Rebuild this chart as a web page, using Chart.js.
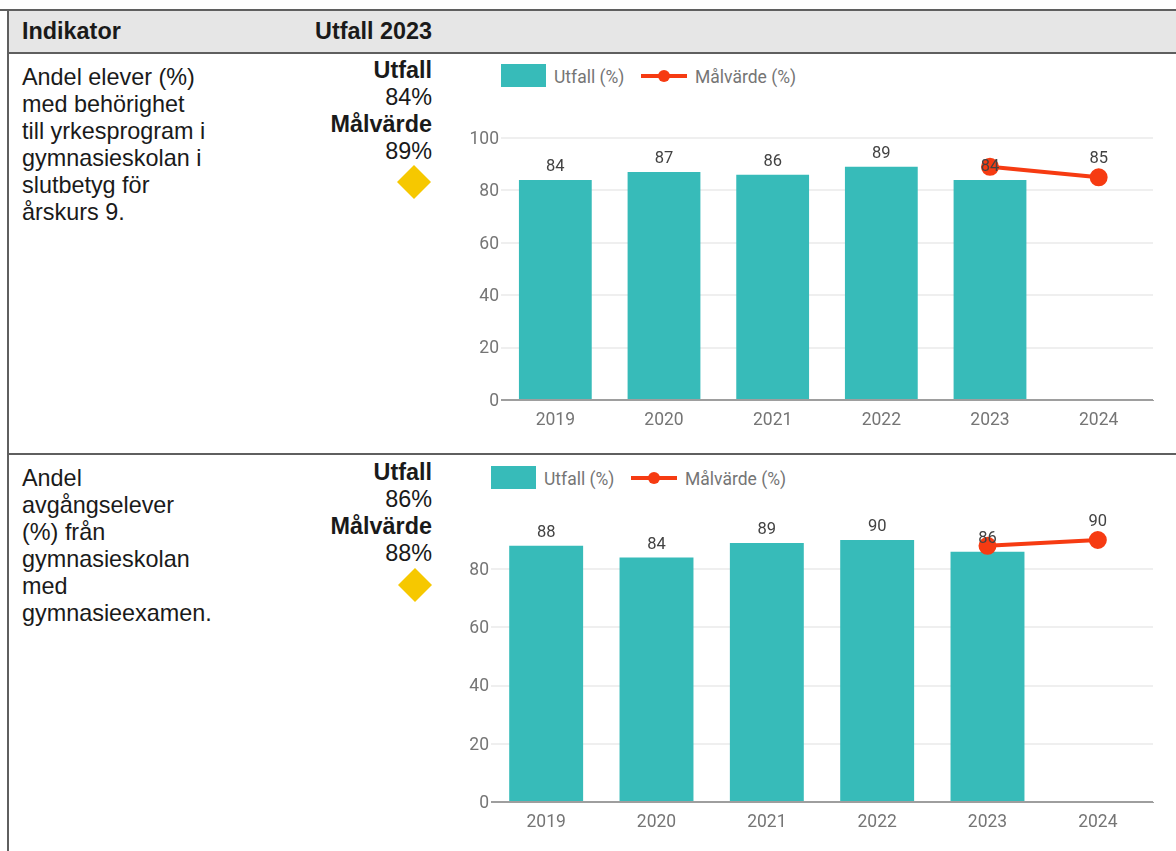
<!DOCTYPE html>
<html lang="sv">
<head>
<meta charset="utf-8">
<title>Indikator</title>
<script src="https://cdn.jsdelivr.net/npm/chart.js@4"></script>
<style>
  html, body { margin: 0; background: #fff; }
  body { position: relative; width: 1176px; height: 851px; overflow: hidden; font-family: "Liberation Sans", Arial, sans-serif; color: #1a1a1a; }
  .rule { position: absolute; background: #5f5f5f; }
  .head { position: absolute; left: 8px; top: 11px; width: 1168px; height: 41px; background: #e6e6e6; }
  .txt { position: absolute; font-size: 23.4px; line-height: 27px; white-space: pre; }
  .b { font-weight: bold; }
  .r { text-align: right; right: 744px; }
  .diamond { position: absolute; width: 34px; height: 34px; background: #f6c800; clip-path: polygon(50% 0, 100% 50%, 50% 100%, 0 50%); }
  canvas { position: absolute; }
  .legend { position: absolute; height: 24px; font: 17.5px Roboto, sans-serif; color: #757575; line-height: 26px; }
  .legend span { position: absolute; top: 0; white-space: nowrap; }
  .swatch { position: absolute; top: 0; width: 45px; height: 23px; background: #37bbb9; }
  .lline { position: absolute; top: 10px; width: 46px; height: 4px; background: #f63b12; }
  .ldot { position: absolute; top: 6px; width: 12px; height: 12px; border-radius: 50%; background: #f63b12; }
</style>
</head>
<body>
<div class="head"></div>
<div class="rule" style="left:0;top:9px;width:1176px;height:2px"></div>
<div class="rule" style="left:7px;top:9px;width:2px;height:842px"></div>
<div class="rule" style="left:8px;top:52px;width:1168px;height:2px"></div>
<div class="rule" style="left:8px;top:453px;width:1168px;height:2px"></div>

<div class="txt b" style="left:22px;top:18px">Indikator</div>
<div class="txt b r" style="top:18px">Utfall 2023</div>

<div class="txt" style="left:22px;top:64px">Andel elever (%)
med behörighet
till yrkesprogram i
gymnasieskolan i
slutbetyg för
årskurs 9.</div>
<div class="txt b r" style="top:57px">Utfall</div>
<div class="txt r" style="top:84px">84%</div>
<div class="txt b r" style="top:111px">Målvärde</div>
<div class="txt r" style="top:138px">89%</div>
<div class="diamond" style="left:397px;top:165px"></div>

<div class="txt" style="left:22px;top:465px">Andel
avgångselever
(%) från
gymnasieskolan
med
gymnasieexamen.</div>
<div class="txt b r" style="top:459px">Utfall</div>
<div class="txt r" style="top:486px">86%</div>
<div class="txt b r" style="top:513px">Målvärde</div>
<div class="txt r" style="top:540px">88%</div>
<div class="diamond" style="left:398px;top:568px"></div>

<div class="legend" style="left:501px;top:64px;width:320px">
  <div class="swatch" style="left:0"></div><span style="left:53px">Utfall (%)</span>
  <div class="lline" style="left:140px"></div><div class="ldot" style="left:157px"></div><span style="left:194px">Målvärde (%)</span>
</div>
<div class="legend" style="left:491px;top:466px;width:320px">
  <div class="swatch" style="left:0"></div><span style="left:53px">Utfall (%)</span>
  <div class="lline" style="left:140px"></div><div class="ldot" style="left:157px"></div><span style="left:194px">Målvärde (%)</span>
</div>

<canvas id="chart1" style="left:462px;top:110px"></canvas>
<canvas id="chart2" style="left:452px;top:500px"></canvas>

<script>
const years = ['2019', '2020', '2021', '2022', '2023', '2024'];

const utfallBehorighet = [84, 87, 86, 89, 84, null];
const malvardeBehorighet = [null, null, null, null, 89, 85];
const ticksBehorighet = [0, 20, 40, 60, 80, 100];

const utfallExamen = [88, 84, 89, 90, 86, null];
const malvardeExamen = [null, null, null, null, 88, 90];
const ticksExamen = [0, 20, 40, 60, 80];

// value labels, the target only gets one where there is no bar under it
const valueLabels = {
  id: 'valueLabels',
  afterDatasetsDraw(chart) {
    const ctx = chart.ctx;
    const line = chart.getDatasetMeta(0);
    const bars = chart.getDatasetMeta(1);
    ctx.save();
    ctx.font = '16.5px Roboto, sans-serif';
    ctx.fillStyle = '#424242';
    ctx.textAlign = 'center';
    ctx.textBaseline = 'middle';
    years.forEach((year, i) => {
      const barValue = chart.data.datasets[1].data[i];
      const lineValue = chart.data.datasets[0].data[i];
      if (barValue !== null) {
        ctx.fillText(barValue, bars.data[i].x, bars.data[i].y - 13);
      } else if (lineValue !== null) {
        ctx.fillText(lineValue, line.data[i].x, line.data[i].y - 18);
      }
    });
    ctx.restore();
  },
};

function drawChart(id, paddingTop, utfall, malvarde, tickValues, maxValue) {
  return new Chart(document.getElementById(id), {
    type: 'bar',
    data: {
      labels: years,
      datasets: [
        {
          type: 'line',
          label: 'Målvärde (%)',
          data: malvarde,
          borderColor: '#f63b12',
          backgroundColor: '#f63b12',
          borderWidth: 4,
          pointRadius: 7,
          pointHoverRadius: 7,
          spanGaps: false,
          clip: false,
          order: 1,
        },
        {
          label: 'Utfall (%)',
          data: utfall,
          backgroundColor: '#37bbb9',
          categoryPercentage: 0.67,
          barPercentage: 1,
          order: 2,
        },
      ],
    },
    options: {
      responsive: false,
      animation: false,
      layout: { padding: { top: paddingTop, right: 9, left: 0, bottom: 0 } },
      plugins: { legend: { display: false }, tooltip: { enabled: false } },
      scales: {
        x: {
          grid: { display: false },
          border: { color: '#9e9e9e' },
          ticks: { color: '#757575', font: { family: 'Roboto', size: 17.5 }, padding: 2, maxRotation: 0 },
          afterFit(scale) { scale.height = 40; },
        },
        y: {
          min: 0,
          max: maxValue,
          border: { display: false },
          grid: {
            color: ctx => (ctx.tick.value === 0 ? '#9e9e9e' : '#efefef'),
            lineWidth: 2,
            drawTicks: false,
          },
          ticks: { color: '#757575', font: { family: 'Roboto', size: 17.5 }, padding: 2, labelOffset: 1.5 },
          afterBuildTicks(scale) { scale.ticks = tickValues.map(v => ({ value: v })); },
          afterFit(scale) { scale.width = 39; },
        },
      },
    },
    plugins: [valueLabels],
  });
}

function sizeCanvas(id, width, height) {
  const canvas = document.getElementById(id);
  canvas.width = width;
  canvas.height = height;
}

sizeCanvas('chart1', 702, 330);
sizeCanvas('chart2', 712, 342);

drawChart('chart1', 28, utfallBehorighet, malvardeBehorighet, ticksBehorighet, 100);
drawChart('chart2', 40, utfallExamen, malvardeExamen, ticksExamen, 90);
</script>
</body>
</html>
